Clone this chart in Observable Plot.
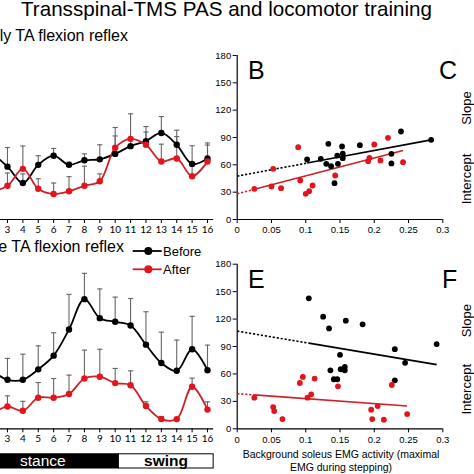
<!DOCTYPE html>
<html><head><meta charset="utf-8">
<script src="https://cdn.jsdelivr.net/npm/d3@7"></script>
<script src="https://cdn.jsdelivr.net/npm/@observablehq/plot@0.6"></script>
<style>
body{margin:0;background:#fff;}
#wrap{position:relative;width:474px;height:474px;overflow:hidden;font-family:"Liberation Sans",Arial,sans-serif;background:#fff;}
#wrap svg{position:absolute;left:0;top:0;}
</style></head><body><div id="wrap"></div>
<script>
// ---------- data ----------
const bins = [1,2,3,4,5,6,7,8,9,10,11,12,13,14,15,16];
const binTicks = [3,4,5,6,7,8,9,10,11,12,13,14,15,16];
const earlyBefore   = [62,70,58,40,60,70,60,65,66,72,80.5,86,95,82,61,67];
const earlyBeforeSD = [13,15,21,10,10,8,3,7,16,29,8,16,18,16,20,17];
const earlyAfter    = [40,32,37,55.6,33.7,28,31,37,42,78.7,88.5,82,63.7,67,47.5,63.7];
const earlyAfterSD  = [10,12,14,25,11,12,16,21.5,8,13,27.5,14,19,24,12,18];
const lateBefore    = [70,63,53.6,53.6,65,80,108.6,141.8,121,117,113,92,72,63.4,87,64];
const lateBeforeSD  = [25,25,23.4,28,25.7,25,38.4,28.2,32,27,29.5,36,33.7,33.6,36,27.5];
const lateAfter     = [20,18,24.4,19.7,34,34,38,55,57,50,47.7,25,10.6,10.6,46,21];
const lateAfterSD   = [8,8,11.6,10.3,16.6,21,20.7,31,30,16,15.7,4.5,2.9,1.4,9.4,8.5];

const bBeforeX = [0.102,0.122,0.130,0.137,0.133,0.146,0.147,0.153,0.154,0.154,0.179,0.225,0.225,0.239,0.283,0.142];
const bBeforeY = [65.9,66.6,61.1,58.5,83.1,70.2,61.1,80.1,67.3,72.4,81.6,72.1,61.5,96.6,87.4,39.9];
const bAfterX  = [0.025,0.050,0.0525,0.064,0.089,0.092,0.100,0.105,0.110,0.143,0.191,0.193,0.200,0.209,0.220,0.242];
const bAfterY  = [33.7,36.2,55.6,34.4,79.4,42.8,28.2,31.1,37.3,48.3,64,67.7,82.3,64.8,89.6,62.9];
const eBeforeX = [0.1045,0.1254,0.134,0.1585,0.183,0.150,0.136,0.141,0.146,0.151,0.157,0.157,0.230,0.245,0.230,0.291];
const eBeforeY = [142.7,122.6,109.8,118.2,114.2,80.9,64,54.2,54.2,65.1,67.7,64,87.1,72.1,53,92.6];
const eAfterX  = [0.025,0.0525,0.054,0.066,0.0914,0.0958,0.113,0.1026,0.108,0.147,0.1955,0.197,0.205,0.214,0.2256,0.248];
const eAfterY  = [34,23.8,19.4,10.6,50.1,56.7,54.9,34,37.7,46.5,20.9,10.6,24.9,9.9,47.9,16.1];

// regression fits [before, after]
const fitBIntercept = [47.6, 28.2];
const fitBSlope     = [140.6, 196];
const fitEIntercept = [106.8, 38.4];
const fitESlope     = [-125.8, -54];

const yTicks = [0,30,60,90,120,150,180];
const xTicksEMG = [0,0.05,0.1,0.15,0.2,0.25,0.3];
const groups = ["Before","After"];
const phases = ["stance","swing"];
const phaseEnd = [10.24, 16.4];

// ---------- style ----------
const BLACK = "#000", RED = "#e3141c", REDLINE = "#cf1f27", ERR = "#666666";
const wrap = document.getElementById("wrap");
const W = 474, H = 474;

function timeChart(before, beforeSD, after, afterSD, top, bottom) {
  const rows = [];
  bins.forEach((b,i) => {
    rows.push({bin:b, g:"Before", m:before[i], sd:beforeSD[i]});
    rows.push({bin:b, g:"After", m:after[i], sd:afterSD[i]});
  });
  const bef = rows.filter(d => d.g === "Before"), aft = rows.filter(d => d.g === "After");
  return Plot.plot({
    width: W, height: H, marginTop: top, marginBottom: H - bottom, marginLeft: 0, marginRight: 0,
    x: {domain: [1,16], range: [-23.8, 207], label: null},
    y: {domain: [0,180], axis: null, label: null},
    style: {background: "none", fontFamily: "Lato, sans-serif"},
    marks: [
      Plot.ruleY([0], {x1: 0, x2: 16.4, stroke: BLACK, strokeWidth: 1.2}),
      Plot.axisX({ticks: binTicks, tickSize: 4, tickPadding: 2, fontSize: 10, tickFormat: d => String(d), stroke: BLACK, label: null}),
      Plot.ruleX(rows, {x: "bin", y1: "m", y2: d => d.m + d.sd, stroke: ERR, strokeWidth: 1.1}),
      Plot.link(rows, {x1: d => d.bin - 0.17, x2: d => d.bin + 0.17, y1: d => d.m + d.sd, y2: d => d.m + d.sd, stroke: ERR, strokeWidth: 1.1}),
      Plot.line(bef, {x: "bin", y: "m", stroke: BLACK, strokeWidth: 1.8, curve: "catmull-rom"}),
      Plot.line(aft, {x: "bin", y: "m", stroke: REDLINE, strokeWidth: 1.8, curve: "catmull-rom"}),
      Plot.dot(bef, {x: "bin", y: "m", fill: BLACK, r: 3.2}),
      Plot.dot(aft, {x: "bin", y: "m", fill: RED, r: 3.2})
    ]
  });
}

function scatterChart(bx, by, ax, ay, intercepts, slopes, top, bottom) {
  const pts = [];
  bx.forEach((x,i) => pts.push({x, y: by[i], g: "Before"}));
  ax.forEach((x,i) => pts.push({x, y: ay[i], g: "After"}));
  const segs = [];
  [[bx, 0], [ax, 1]].forEach(([xs, k]) => {
    const lo = d3.min(xs), hi = d3.max(xs);
    const f = x => intercepts[k] + slopes[k] * x;
    segs.push({x1: 0, x2: lo, y1: f(0), y2: f(lo), g: groups[k], dash: true});
    segs.push({x1: lo, x2: hi, y1: f(lo), y2: f(hi), g: groups[k], dash: false});
  });
  const col = g => g === "Before" ? BLACK : REDLINE;
  return Plot.plot({
    width: W, height: H, marginTop: top, marginBottom: H - bottom, marginLeft: 236.7, marginRight: W - 442.3,
    x: {domain: [0,0.3], label: null},
    y: {domain: [0,180], label: null},
    style: {background: "none", fontFamily: "Liberation Sans, Arial, sans-serif"},
    marks: [
      Plot.ruleX([0], {stroke: BLACK, strokeWidth: 1.2}),
      Plot.ruleY([0], {stroke: BLACK, strokeWidth: 1.2}),
      Plot.axisX({ticks: xTicksEMG, tickSize: 4, tickPadding: 3, fontSize: 9.5, tickFormat: d => String(+d.toFixed(2)), label: null}),
      Plot.axisY({ticks: yTicks, tickSize: 4, tickPadding: 2, fontSize: 9.5, tickFormat: d => String(d), label: null}),
      Plot.link(segs.filter(d => d.dash), {x1: "x1", x2: "x2", y1: "y1", y2: "y2", stroke: d => col(d.g), strokeWidth: 1.6, strokeDasharray: "2.2,1.8"}),
      Plot.link(segs.filter(d => !d.dash), {x1: "x1", x2: "x2", y1: "y1", y2: "y2", stroke: d => col(d.g), strokeWidth: 1.6}),
      Plot.dot(pts, {x: "x", y: "y", fill: d => d.g === "Before" ? BLACK : RED, r: 2.9})
    ]
  });
}

const chartA = timeChart(earlyBefore, earlyBeforeSD, earlyAfter, earlyAfterSD, 55, 219);
const chartD = timeChart(lateBefore, lateBeforeSD, lateAfter, lateAfterSD, 263.7, 428.3);
const chartB = scatterChart(bBeforeX, bBeforeY, bAfterX, bAfterY, fitBIntercept, fitBSlope, 55, 219);
const chartE = scatterChart(eBeforeX, eBeforeY, eAfterX, eAfterY, fitEIntercept, fitESlope, 263.7, 428.3);
[chartA, chartD, chartB, chartE].forEach(c => wrap.appendChild(c));

// ---------- annotations overlay ----------
const xD = chartD.scale("x");
const svg = d3.select(wrap).append("svg").attr("width", W).attr("height", H)
  .style("font-family", "'Liberation Sans', Arial, sans-serif");

svg.append("text").attr("x", 21).attr("y", 15.5).attr("font-size", 20.6).text("Transspinal-TMS PAS and locomotor training");
svg.append("text").attr("x", 128).attr("y", 40.5).attr("font-size", 16).attr("text-anchor", "end").text("Early TA flexion reflex");
svg.append("text").attr("x", 124).attr("y", 251.5).attr("font-size", 16).attr("text-anchor", "end").text("Late TA flexion reflex");

// panel letters
[["B", 248, 79], ["C", 439, 79], ["E", 248, 288.3], ["F", 442, 288.3]].forEach(([t, x, y]) =>
  svg.append("text").attr("x", x).attr("y", y).attr("font-size", 25).text(t));

// Slope / Intercept
[["Slope", 108], ["Intercept", 179], ["Slope", 320.7], ["Intercept", 389.3]].forEach(([t, cy]) =>
  svg.append("text").attr("transform", `translate(471,${cy}) rotate(-90)`).attr("text-anchor", "middle")
    .attr("font-size", 13).text(t));

// legend
groups.forEach((g, i) => {
  const y = 251 + i * 18.3;
  const lc = i === 0 ? BLACK : REDLINE, dc = i === 0 ? BLACK : RED;
  svg.append("line").attr("x1", 132.7).attr("x2", 161.7).attr("y1", y).attr("y2", y).attr("stroke", lc).attr("stroke-width", 1.8);
  svg.append("circle").attr("cx", 148.3).attr("cy", y).attr("r", 4).attr("fill", dc);
  svg.append("text").attr("x", 163).attr("y", y + 4.6).attr("font-size", 13).text(g);
});

// stance / swing bar
phases.forEach((p, i) => {
  const x0 = i === 0 ? -2 : xD.apply(phaseEnd[i - 1]);
  const x1 = xD.apply(phaseEnd[i]);
  svg.append("rect").attr("x", x0).attr("y", 453.8).attr("width", x1 - x0).attr("height", 14.2)
    .attr("fill", i === 0 ? "#000" : "#fff").attr("stroke", "#000").attr("stroke-width", 1);
  svg.append("text").attr("x", i === 0 ? 42.8 : 166).attr("y", 466).attr("text-anchor", "middle")
    .attr("font-size", 15.5).attr("font-weight", i === 0 ? "normal" : "bold").attr("fill", i === 0 ? "#fff" : "#000").text(p);
});

// x-axis title for E
svg.append("text").attr("x", 341).attr("y", 457.7).attr("text-anchor", "middle").attr("font-size", 10.5)
  .text("Background soleus EMG activity (maximal");
svg.append("text").attr("x", 341).attr("y", 470.7).attr("text-anchor", "middle").attr("font-size", 10.5)
  .text("EMG during stepping)");
</script>
</body></html>
